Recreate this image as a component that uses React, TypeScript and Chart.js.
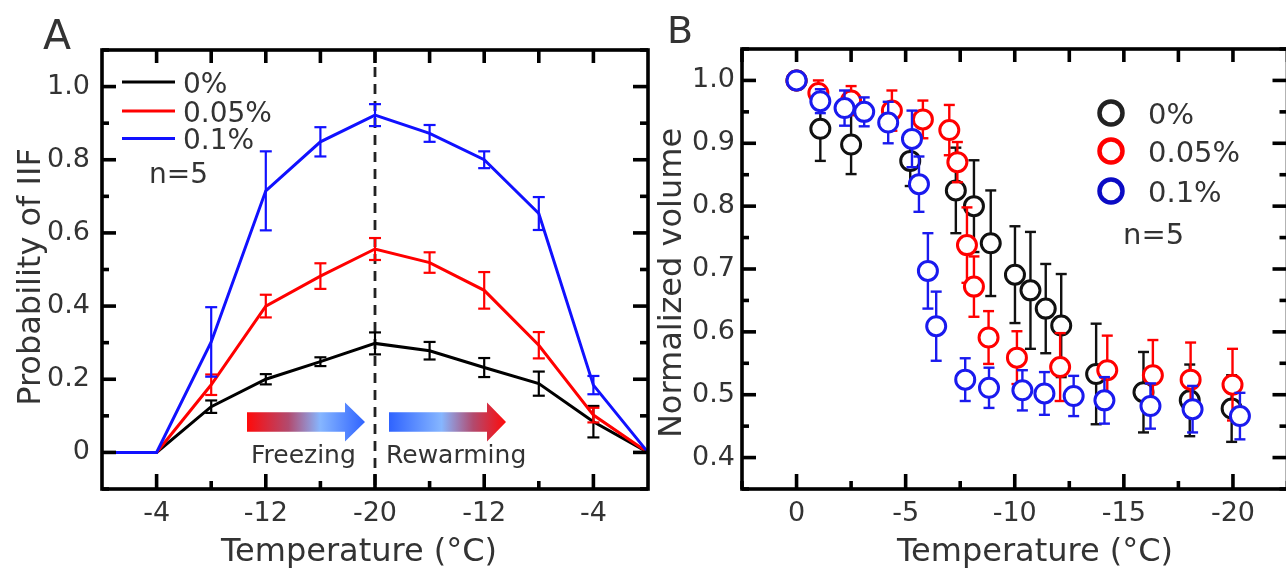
import React, { useEffect, useRef } from 'react';
import { Chart, registerables } from 'chart.js';

Chart.register(...registerables);

// ---------------- Panel A data ----------------
const tempCategoriesA = ['0', '-4', '-8', '-12', '-16', '-20', '-16', '-12', '-8', '-4', '0'];
const xTickLabelsA = ['', '-4', '', '-12', '', '-20', '', '-12', '', '-4', ''];
const yTicksA = [0, 0.2, 0.4, 0.6, 0.8, 1.0];
const yMinorA = [-0.1, 0.1, 0.3, 0.5, 0.7, 0.9, 1.1];
const probA0 = [0, 0, 0.125, 0.2, 0.248, 0.298, 0.278, 0.232, 0.188, 0.084, 0];
const errA0 = [0, 0, 0.017, 0.014, 0.012, 0.03, 0.024, 0.026, 0.033, 0.043, 0];
const probA1 = [0, 0, 0.185, 0.4, 0.482, 0.556, 0.519, 0.443, 0.293, 0.102, 0];
const errA1 = [0, 0, 0.028, 0.031, 0.035, 0.03, 0.028, 0.05, 0.036, 0.02, 0];
const probA2 = [0, 0, 0.302, 0.715, 0.849, 0.922, 0.872, 0.8, 0.653, 0.184, 0];
const errA2 = [0, 0, 0.095, 0.108, 0.04, 0.03, 0.023, 0.023, 0.045, 0.025, 0];
const seriesNames = ['0%', '0.05%', '0.1%'];

// ---------------- Panel B data ----------------
const xTicksB = [0, -5, -10, -15, -20];
const xMinorB = [2.5, -2.5, -7.5, -12.5, -17.5, -22.5];
const yTicksB = [0.4, 0.5, 0.6, 0.7, 0.8, 0.9, 1.0];
const yMinorB = [0.35, 0.45, 0.55, 0.65, 0.75, 0.85, 0.95, 1.05];
const tempB0 = [0, -1.09, -2.5, -5.21, -7.3, -8.13, -8.9, -10.01, -10.72, -11.42, -12.13, -13.73, -15.9, -18.02, -19.94];
const volB0 = [1.0, 0.923, 0.898, 0.872, 0.825, 0.8, 0.741, 0.691, 0.666, 0.637, 0.61, 0.533, 0.504, 0.491, 0.478];
const errB0 = [0, 0.051, 0.047, 0.04, 0.068, 0.073, 0.084, 0.077, 0.093, 0.071, 0.082, 0.08, 0.064, 0.057, 0.053];
const tempB1 = [0, -1.0, -2.5, -4.37, -5.79, -7.0, -7.37, -7.81, -8.13, -8.8, -10.1, -12.08, -14.24, -16.33, -18.06, -19.98];
const volB1 = [1.0, 0.98, 0.968, 0.952, 0.938, 0.921, 0.87, 0.738, 0.672, 0.591, 0.559, 0.544, 0.539, 0.531, 0.524, 0.516];
const errB1 = [0, 0.02, 0.023, 0.032, 0.03, 0.04, 0.032, 0.06, 0.048, 0.042, 0.042, 0.054, 0.055, 0.056, 0.059, 0.057];
const tempB2 = [0, -1.09, -2.2, -3.1, -4.2, -5.29, -5.61, -6.02, -6.4, -7.73, -8.82, -10.35, -11.36, -12.7, -14.11, -16.22, -18.15, -20.32];
const volB2 = [1.0, 0.967, 0.956, 0.95, 0.933, 0.907, 0.835, 0.697, 0.609, 0.524, 0.511, 0.507, 0.502, 0.498, 0.491, 0.482, 0.477, 0.466];
const errB2 = [0, 0.019, 0.028, 0.023, 0.033, 0.045, 0.044, 0.06, 0.055, 0.034, 0.032, 0.032, 0.034, 0.032, 0.037, 0.036, 0.037, 0.037];

const FONT = '"DejaVu Sans", Verdana, sans-serif';
const TEXT = '#333333';
const COLORS_A = ['#000000', '#ff0000', '#1111ff'];
const COLORS_B = ['#111111', '#ff0000', '#1a1aee'];
const LEGEND_B = ['#222222', '#ff0000', '#0b0bc4'];

function line(ctx: CanvasRenderingContext2D, x1: number, y1: number, x2: number, y2: number) {
  ctx.beginPath();
  ctx.moveTo(x1, y1);
  ctx.lineTo(x2, y2);
  ctx.stroke();
}

function frameDrawer(cfg: { xMajor: number[]; xMinor: number[]; xTop: number[]; yMajor: number[]; yMinor: number[] }) {
  return {
    id: 'frame',
    afterDraw(chart: any) {
      const { ctx, chartArea: a, scales } = chart;
      const xs = scales.x;
      const ys = scales.y;
      ctx.save();
      ctx.strokeStyle = '#000';
      ctx.lineWidth = 3.6;
      ctx.strokeRect(a.left, a.top, a.right - a.left, a.bottom - a.top);
      cfg.xMajor.forEach((v) => { const x = xs.getPixelForValue(v); line(ctx, x, a.bottom, x, a.bottom - 15); });
      cfg.xMinor.forEach((v) => { const x = xs.getPixelForValue(v); line(ctx, x, a.bottom, x, a.bottom - 8); });
      cfg.xTop.forEach((v) => { const x = xs.getPixelForValue(v); line(ctx, x, a.top, x, a.top + 13); });
      cfg.yMajor.forEach((v) => {
        const y = ys.getPixelForValue(v);
        line(ctx, a.left, y, a.left + 14, y);
        line(ctx, a.right, y, a.right - 15, y);
      });
      cfg.yMinor.forEach((v) => {
        const y = ys.getPixelForValue(v);
        line(ctx, a.left, y, a.left + 7, y);
        line(ctx, a.right, y, a.right - 8, y);
      });
      ctx.restore();
    },
  };
}

function errorBarDrawer(errors: number[][], colors: string[], cap: number, width: number) {
  return {
    id: 'errorbars',
    beforeDatasetDraw(chart: any, args: any) {
      const i = args.index;
      const errs = errors[i];
      if (!errs) return;
      const meta = chart.getDatasetMeta(i);
      const ys = chart.scales.y;
      const vals = chart.data.datasets[i].data;
      const ctx = chart.ctx;
      ctx.save();
      ctx.strokeStyle = colors[i];
      ctx.lineWidth = width;
      meta.data.forEach((pt: any, j: number) => {
        const e = errs[j];
        if (!e) return;
        const v = typeof vals[j] === 'number' ? vals[j] : vals[j].y;
        const yt = ys.getPixelForValue(v + e);
        const yb = ys.getPixelForValue(v - e);
        line(ctx, pt.x, yt, pt.x, yb);
        line(ctx, pt.x - cap, yt, pt.x + cap, yt);
        line(ctx, pt.x - cap, yb, pt.x + cap, yb);
      });
      ctx.restore();
    },
  };
}

function drawArrow(ctx: CanvasRenderingContext2D, x0: number, x1: number, xh: number, yc: number, stops: [number, string][]) {
  const g = ctx.createLinearGradient(x0, 0, x1, 0);
  stops.forEach(([o, c]) => g.addColorStop(o, c));
  ctx.fillStyle = g;
  ctx.beginPath();
  ctx.moveTo(x0, yc - 9.7);
  ctx.lineTo(xh, yc - 9.7);
  ctx.lineTo(xh, yc - 19.5);
  ctx.lineTo(x1, yc);
  ctx.lineTo(xh, yc + 19.5);
  ctx.lineTo(xh, yc + 9.7);
  ctx.lineTo(x0, yc + 9.7);
  ctx.closePath();
  ctx.fill();
}

const decorA = {
  id: 'decorA',
  beforeDatasetsDraw(chart: any) {
    const { ctx, chartArea: a, scales } = chart;
    const x = scales.x.getPixelForValue(5);
    ctx.save();
    ctx.strokeStyle = '#222';
    ctx.lineWidth = 2.8;
    ctx.setLineDash([10, 7]);
    line(ctx, x, a.top, x, a.bottom);
    ctx.restore();
  },
  afterDraw(chart: any) {
    const ctx: CanvasRenderingContext2D = chart.ctx;
    ctx.save();
    ctx.fillStyle = TEXT;
    ctx.textBaseline = 'alphabetic';
    // panel letter
    ctx.font = `41px ${FONT}`;
    ctx.textAlign = 'left';
    ctx.fillText('A', 43, 49);
    // axis titles
    ctx.font = `32px ${FONT}`;
    ctx.textAlign = 'center';
    ctx.fillText('Temperature (\u00B0C)', 359, 561);
    ctx.save();
    ctx.translate(40, 277);
    ctx.rotate(-Math.PI / 2);
    ctx.fillText('Probability of IIF', 0, 0);
    ctx.restore();
    // legend
    const ly = [82, 111, 138.5];
    ctx.font = `28px ${FONT}`;
    ctx.textAlign = 'left';
    seriesNames.forEach((n, i) => {
      ctx.strokeStyle = COLORS_A[i];
      ctx.lineWidth = 3;
      line(ctx, 122, ly[i], 175, ly[i]);
      ctx.fillStyle = TEXT;
      ctx.fillText(n, 183, ly[i] + 10.5);
    });
    ctx.fillText('n=5', 149, 183);
    // arrows
    const red = '#ff0a0a';
    const mauve = '#b24a6e';
    const light = '#86b6ff';
    const blue = '#2f63ff';
    drawArrow(ctx, 247, 365, 345, 422, [[0, red], [0.35, mauve], [0.62, light], [1, blue]]);
    drawArrow(ctx, 389, 506, 487, 422, [[0, blue], [0.45, light], [0.72, mauve], [1, red]]);
    ctx.fillStyle = TEXT;
    ctx.font = `25px ${FONT}`;
    ctx.fillText('Freezing', 251, 463);
    ctx.fillText('Rewarming', 386, 463);
    ctx.restore();
  },
};

const decorB = {
  id: 'decorB',
  afterDraw(chart: any) {
    const ctx: CanvasRenderingContext2D = chart.ctx;
    ctx.save();
    ctx.fillStyle = TEXT;
    ctx.textBaseline = 'alphabetic';
    ctx.font = `38px ${FONT}`;
    ctx.textAlign = 'left';
    ctx.fillText('B', 27, 43);
    ctx.font = `32px ${FONT}`;
    ctx.textAlign = 'center';
    ctx.fillText('Temperature (\u00B0C)', 395, 561);
    ctx.save();
    ctx.translate(41, 283);
    ctx.rotate(-Math.PI / 2);
    ctx.fillText('Normalized volume', 0, 0);
    ctx.restore();
    const ly = [113, 151, 191];
    ctx.font = `29px ${FONT}`;
    ctx.textAlign = 'left';
    seriesNames.forEach((n, i) => {
      ctx.strokeStyle = LEGEND_B[i];
      ctx.lineWidth = 4.5;
      ctx.beginPath();
      ctx.arc(471, ly[i], 11.5, 0, Math.PI * 2);
      ctx.stroke();
      ctx.fillStyle = TEXT;
      ctx.fillText(n, 508, ly[i] + 10.6);
    });
    ctx.fillText('n=5', 483, 244);
    ctx.restore();
  },
};

function fixY(width: number) {
  return (s: any) => {
    s.width = width;
    s.paddingTop = 0;
    s.paddingBottom = 0;
  };
}
function fixX(height: number) {
  return (s: any) => {
    s.height = height;
    s.paddingLeft = 0;
    s.paddingRight = 0;
  };
}

const tickFont = { family: FONT, size: 27 };

function makeConfigA(): any {
  const sets = [probA0, probA1, probA2];
  return {
    type: 'line',
    data: {
      labels: tempCategoriesA,
      datasets: sets.map((d, i) => ({
        label: seriesNames[i],
        data: d,
        borderColor: COLORS_A[i],
        borderWidth: 3,
        pointRadius: 0,
        tension: 0,
        fill: false,
        order: 3 - i,
      })),
    },
    options: {
      responsive: false,
      animation: false,
      devicePixelRatio: 1,
      layout: { padding: { left: 0, right: 12, top: 50, bottom: 0 } },
      plugins: { legend: { display: false }, tooltip: { enabled: false } },
      scales: {
        x: {
          type: 'category',
          offset: false,
          grid: { display: false, drawTicks: false },
          border: { display: false },
          ticks: {
            autoSkip: false,
            maxRotation: 0,
            padding: 9,
            color: TEXT,
            font: tickFont,
            callback: (_v: any, i: number) => xTickLabelsA[i],
          },
          afterFit: fixX(83),
        },
        y: {
          type: 'linear',
          min: -0.1,
          max: 1.1,
          grid: { display: false, drawTicks: false },
          border: { display: false },
          afterBuildTicks: (s: any) => { s.ticks = yTicksA.map((v) => ({ value: v })); },
          ticks: {
            padding: 12,
            color: TEXT,
            font: tickFont,
            callback: (v: number) => (v === 0 ? '0' : v.toFixed(1)),
          },
          afterFit: fixY(102),
        },
      },
    },
    plugins: [
      decorA,
      errorBarDrawer([errA0, errA1, errA2], COLORS_A, 6, 2.2),
      frameDrawer({ xMajor: [1, 3, 5, 7, 9], xMinor: [2, 4, 6, 8], xTop: [1, 2, 3, 4, 5, 6, 7, 8, 9], yMajor: yTicksA, yMinor: yMinorA }),
    ],
  };
}

function makeConfigB(): any {
  const temps = [tempB0, tempB1, tempB2];
  const vols = [volB0, volB1, volB2];
  return {
    type: 'scatter',
    data: {
      datasets: temps.map((t, i) => ({
        label: seriesNames[i],
        data: t.map((x, j) => ({ x, y: vols[i][j] })),
        borderColor: COLORS_B[i],
        backgroundColor: '#ffffff',
        borderWidth: 3,
        pointRadius: 9.5,
        pointStyle: 'circle',
        showLine: false,
        order: 3 - i,
      })),
    },
    options: {
      responsive: false,
      animation: false,
      devicePixelRatio: 1,
      layout: { padding: { left: 0, right: 10.5, top: 49, bottom: 0 } },
      plugins: { legend: { display: false }, tooltip: { enabled: false } },
      scales: {
        x: {
          type: 'linear',
          min: -22.5,
          max: 2.5,
          reverse: true,
          grid: { display: false, drawTicks: false },
          border: { display: false },
          afterBuildTicks: (s: any) => { s.ticks = xTicksB.map((v) => ({ value: v })); },
          ticks: {
            autoSkip: false,
            maxRotation: 0,
            padding: 9,
            color: TEXT,
            font: tickFont,
            callback: (v: number) => String(v),
          },
          afterFit: fixX(83),
        },
        y: {
          type: 'linear',
          min: 0.35,
          max: 1.05,
          grid: { display: false, drawTicks: false },
          border: { display: false },
          afterBuildTicks: (s: any) => { s.ticks = yTicksB.map((v) => ({ value: v })); },
          ticks: {
            padding: 7,
            color: TEXT,
            font: tickFont,
            callback: (v: number) => v.toFixed(1),
          },
          afterFit: fixY(102),
        },
      },
    },
    plugins: [
      decorB,
      errorBarDrawer([errB0, errB1, errB2], COLORS_B, 5.5, 2.4),
      frameDrawer({ xMajor: xTicksB, xMinor: xMinorB, xTop: [...xTicksB, ...xMinorB], yMajor: yTicksB, yMinor: yMinorB }),
    ],
  };
}

export default function App() {
  const refA = useRef<HTMLCanvasElement>(null);
  const refB = useRef<HTMLCanvasElement>(null);
  useEffect(() => {
    const a = new Chart(refA.current as HTMLCanvasElement, makeConfigA());
    const b = new Chart(refB.current as HTMLCanvasElement, makeConfigB());
    return () => {
      a.destroy();
      b.destroy();
    };
  }, []);
  return (
    <div style={{ position: 'fixed', left: 0, top: 0, width: 1286, height: 572, overflow: 'hidden', background: '#ffffff' }}>
      <canvas ref={refA} width={660} height={572} style={{ position: 'absolute', left: 0, top: 0, width: 660, height: 572 }} />
      <canvas ref={refB} width={660} height={572} style={{ position: 'absolute', left: 640, top: 0, width: 660, height: 572 }} />
    </div>
  );
}
